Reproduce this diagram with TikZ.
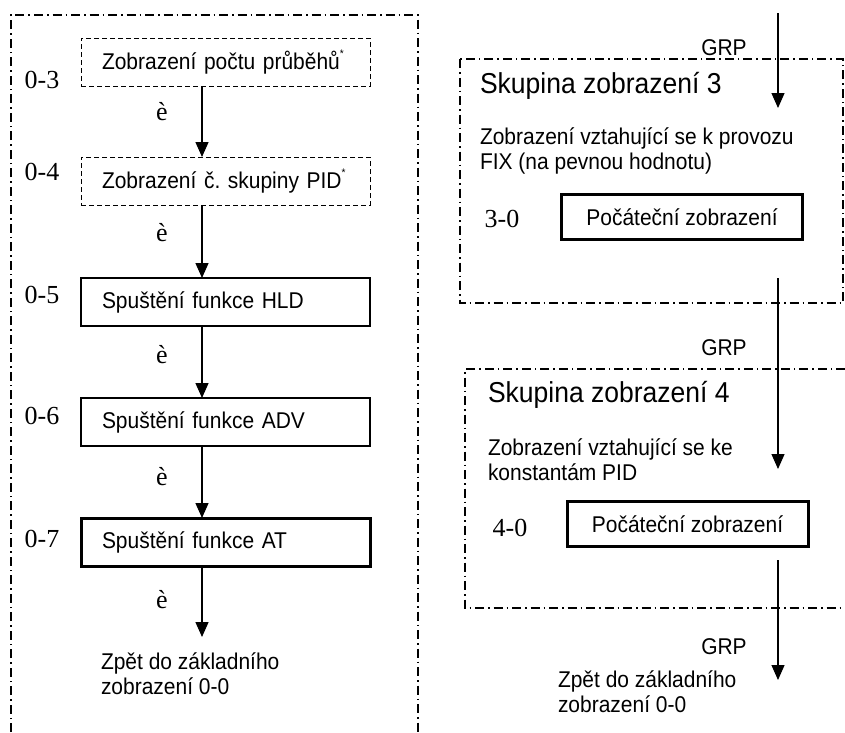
\documentclass[tikz,border=0pt]{standalone}
\usepackage{fontspec}
\setmainfont{Liberation Serif}
\setsansfont[FakeStretch=0.92]{Liberation Sans}
\usetikzlibrary{arrows.meta}
\frenchspacing
\newcommand{\astmark}{\raisebox{12pt}{\fontsize{11}{11}\selectfont *}}
\begin{document}
\begin{tikzpicture}[x=1pt,y=-1pt,
  every node/.style={inner sep=0pt, outer sep=0pt},
  txt/.style={font=\sffamily\fontsize{22.8}{25}\selectfont, align=left},
  big/.style={font=\sffamily\fontsize{28.8}{30}\selectfont},
  num/.style={font=\rmfamily\fontsize{26}{30}\selectfont},
  stepbox/.style={draw, line width=1.2pt, font=\sffamily\fontsize{22.8}{25}\selectfont,
    text width=247pt, inner xsep=21pt, align=left, minimum height=48pt},
  dbox/.style={stepbox, line width=1pt, dash pattern=on 5pt off 3pt},
  tbox/.style={stepbox, line width=3pt},
  initbox/.style={draw, line width=3pt, font=\sffamily\fontsize{22.8}{25}\selectfont,
    minimum width=241pt, minimum height=45pt},
  grpframe/.style={line width=1.1pt, dash pattern=on 9pt off 4pt on 1.5pt off 4pt},
  arr/.style={line width=1.3pt, -{Triangle[width=13pt,length=15pt]}}]
\useasboundingbox (0,0) rectangle (845,732);

% left frame
\draw[grpframe] (11,732) -- (11,15) -- (418,15) -- (418,732);

% left column boxes
\node[dbox] (b3) at (225.5,62) {\mbox{Zobrazení počtu průběhů\astmark}};
\node[dbox] (b4) at (225.5,181) {\mbox{Zobrazení č. skupiny PID\astmark}};
\node[stepbox] (b5) at (225.5,302) {Spuštění funkce HLD};
\node[stepbox] (b6) at (225.5,422) {Spuštění funkce ADV};
\node[tbox] (b7) at (225.5,542) {Spuštění funkce AT};

\node[num] (l3) at (42,80) {0-3};
\node[num] (l4) at (42,172) {0-4};
\node[num] (l5) at (42,295) {0-5};
\node[num] (l6) at (42,416) {0-6};
\node[num] (l7) at (42,539) {0-7};

\node[num] (e3) at (162,112) {è};
\node[num] (e4) at (162,233) {è};
\node[num] (e5) at (162,355) {è};
\node[num] (e6) at (162,477) {è};
\node[num] (e7) at (162,600) {è};

\coordinate (ax) at (202,0);
\coordinate (lend) at (202,637);
\draw[arr] (b3.south -| ax) -- (b4.north -| ax);
\draw[arr] (b4.south -| ax) -- (b5.north -| ax);
\draw[arr] (b5.south -| ax) -- (b6.north -| ax);
\draw[arr] (b6.south -| ax) -- (b7.north -| ax);
\draw[arr] (b7.south -| ax) -- (lend);

\node[txt, anchor=west] (zl) at (101,673.5) {Zpět do základního\\zobrazení 0-0};

% right: group 3
\draw[grpframe] (460,59) rectangle (843,303);
\node[big, anchor=west] (s3) at (480,85.5) {Skupina zobrazení 3};
\node[txt, anchor=west] (d3) at (480,150.5) {Zobrazení vztahující se k provozu\\FIX (na pevnou hodnotu)};
\node[num] (n3) at (502,219) {3-0};
\node[initbox] (p3) at (682,217) {Počáteční zobrazení};

% right: group 4
\draw[grpframe] (845,369) -- (465,369) -- (465,608) -- (845,608);
\node[big, anchor=west] (s4) at (488,395) {Skupina zobrazení 4};
\node[txt, anchor=west] (d4) at (488,460) {Zobrazení vztahující se ke\\konstantám PID};
\node[num] (n4) at (510,528) {4-0};
\node[initbox] (p4) at (687.5,524) {Počáteční zobrazení};

% GRP arrows
\coordinate (a1s) at (778,13);
\coordinate (a1e) at (778,108);
\coordinate (a2s) at (778,278);
\coordinate (a2e) at (778,469);
\coordinate (a3s) at (778,560);
\coordinate (a3e) at (778,680);
\draw[arr] (a1s) -- (a1e);
\draw[arr] (a2s) -- (a2e);
\draw[arr] (a3s) -- (a3e);
\node[txt] (g1) at (724,48) {GRP};
\node[txt] (g2) at (724,348) {GRP};
\node[txt] (g3) at (724,647) {GRP};

\node[txt, anchor=west] (zr) at (558,691.5) {Zpět do základního\\zobrazení 0-0};
\end{tikzpicture}
\end{document}
